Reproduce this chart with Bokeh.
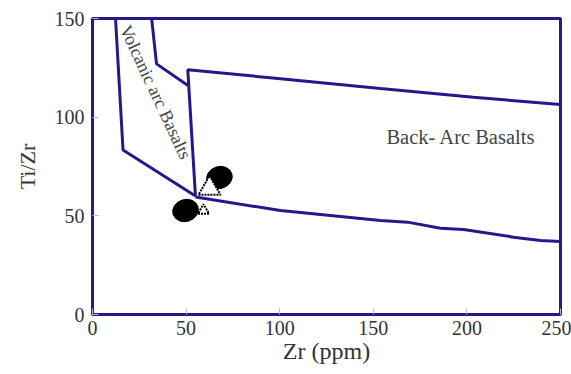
from bokeh.plotting import figure
from bokeh.models import Range1d, FixedTicker, Label
from bokeh.embed import file_html
from bokeh.resources import INLINE

# Field boundaries (Zr ppm, Ti/Zr)
outer_x = [12.3, 16.3, 55.0]
outer_y = [150.0, 83.4, 60.0]

inner_x = [31.6, 34.2, 51.0]
inner_y = [150.0, 127.0, 116.0]

arc_top_x = [55.0, 50.9, 100.4, 153.8, 203.5, 250.0]
arc_top_y = [60.0, 124.0, 119.5, 114.5, 110.1, 106.4]

bottom_x = [55.0, 100.4, 153.8, 168.3, 185.9, 198.2, 224.9, 239.3, 250.0]
bottom_y = [59.5, 52.7, 47.6, 46.8, 43.7, 43.1, 39.2, 37.5, 37.0]

# Samples
circle_x = [67.8, 49.7]
circle_y = [69.4, 52.7]
tri_x = [62.5, 59.3]
tri_y = [63.9, 52.7]
tri_size = [22, 11]

x_ticks = [0, 50, 100, 150, 200, 250]
y_ticks = [0, 50, 100, 150]

BLUE = "#231a8a"
SERIF = "Liberation Serif"

p = figure(width=571, height=374, output_backend="svg", toolbar_location=None,
           x_range=Range1d(0, 250), y_range=Range1d(0, 150),
           min_border_left=92, min_border_right=11, min_border_top=18, min_border_bottom=60)
p.outline_line_color = BLUE
p.outline_line_width = 3
p.grid.visible = False
p.background_fill_color = "white"
p.border_fill_color = "white"

p.axis.axis_line_color = None
p.axis.major_tick_in = 6
p.axis.major_tick_out = 0
p.axis.minor_tick_line_color = None
p.axis.major_tick_line_color = "#bbbbbb"
p.axis.major_label_text_font = SERIF
p.axis.major_label_text_font_size = "20px"
p.axis.major_label_text_color = "#333333"
p.axis.axis_label_text_font = SERIF
p.axis.axis_label_text_font_style = "normal"
p.axis.axis_label_text_color = "#333333"
p.xaxis.axis_label_text_font_size = "24px"
p.yaxis.axis_label_text_font_size = "22px"

p.xaxis.ticker = FixedTicker(ticks=x_ticks)
p.yaxis.ticker = FixedTicker(ticks=y_ticks)
p.xaxis.axis_label = "Zr (ppm)"
p.yaxis.axis_label = "Ti/Zr"
p.xaxis.major_label_standoff = 6
p.yaxis.major_label_standoff = 8
p.xaxis.axis_label_standoff = 0
p.yaxis.axis_label_standoff = 12

for xs, ys in ((outer_x, outer_y), (inner_x, inner_y), (arc_top_x, arc_top_y), (bottom_x, bottom_y)):
    p.line(xs, ys, line_color=BLUE, line_width=3)

p.ellipse(circle_x, circle_y, width=26, height=22, width_units="screen", height_units="screen",
          angle=0.3, fill_color="black", line_color="black")
p.scatter(tri_x, tri_y, marker="triangle", size=tri_size, fill_color="white",
          line_color="black", line_width=2, line_dash="2 1")

p.add_layout(Label(x=33.7, y=112.7, text="Volcanic arc Basalts", angle=-65, angle_units="deg",
                   text_font=SERIF, text_font_size="18px", text_color="#444444",
                   text_align="center", text_baseline="middle"))
p.add_layout(Label(x=157, y=90.2, text="Back- Arc Basalts",
                   text_font=SERIF, text_font_size="20.5px", text_color="#444444",
                   text_align="left", text_baseline="middle"))

open("out.html", "w").write(file_html(p, INLINE))
